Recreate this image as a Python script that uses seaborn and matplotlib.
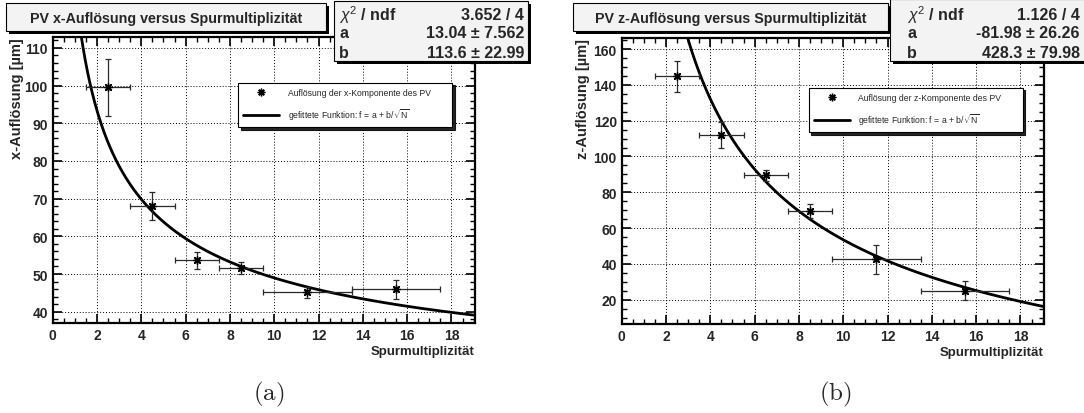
import numpy as np
import pandas as pd
import matplotlib
matplotlib.use("Agg")
import matplotlib.pyplot as plt
import seaborn as sns
from matplotlib.patches import Rectangle
from matplotlib.lines import Line2D
from matplotlib.ticker import MultipleLocator

# ---------------- data ----------------
n_center = [2.5, 4.5, 6.5, 8.5, 11.5, 15.5]
n_halfwidth = [1, 1, 1, 1, 2, 2]

x_res = [99.5, 68.0, 53.6, 51.6, 45.1, 45.9]
x_res_err = [7.5, 3.7, 2.2, 1.5, 1.4, 2.6]

z_res = [144.9, 112.1, 89.5, 69.5, 42.5, 25.0]
z_res_err = [8.6, 7.2, 3.0, 3.8, 8.0, 5.2]

fit_x = (13.04, 113.6)
fit_z = (-81.98, 428.3)

stats_x = [(r"$\chi^2$ / ndf", "3.652 / 4"), ("a", "13.04 ± 7.562"), ("b", "113.6 ± 22.99")]
stats_z = [(r"$\chi^2$ / ndf", "1.126 / 4"), ("a", "-81.98 ± 26.26"), ("b", "428.3 ± 79.98")]

titles = ["PV x-Auflösung versus Spurmultiplizität", "PV z-Auflösung versus Spurmultiplizität"]
ylabels = ["x-Auflösung [µm]", "z-Auflösung [µm]"]
xlabel = "Spurmultiplizität"
legend_points = ["Auflösung der x-Komponente des PV", "Auflösung der z-Komponente des PV"]
legend_fit = r"gefittete Funktion: f = a + b/$\sqrt{\mathrm{N}}$"
panel_tags = [r"$\mathrm{(a)}$", r"$\mathrm{(b)}$"]

xlims = (0, 19.05)
ylims = [(37.0, 112.9), (6.4, 166.2)]
ymajor = [10, 20]
yminor = [2, 5]

# ---------------- style ----------------
sns.set_style("white")
plt.rcParams["font.family"] = ["Liberation Sans", "DejaVu Sans"]
plt.rcParams["mathtext.fontset"] = "custom"
plt.rcParams["mathtext.rm"] = "Liberation Sans"
plt.rcParams["mathtext.it"] = "Liberation Sans:italic"
plt.rcParams["mathtext.bf"] = "Liberation Sans:bold"

W, H = 1084, 414
fig = plt.figure(figsize=(W / 100, H / 100), dpi=100)

axes_px = [(52.7, 38, 422, 286), (621.7, 39, 422, 286)]
legend_px = [(238, 92, 452, 128), (808.5, 94, 1022.5, 133)]
ylabel_x = [-0.068, -0.074]

datasets = [(x_res, x_res_err, fit_x), (z_res, z_res_err, fit_z)]

for i, (px, (vals, errs, (a, b))) in enumerate(zip(axes_px, datasets)):
    l, t, w, h = px
    ax = fig.add_axes([l / W, 1 - (t + h) / H, w / W, h / H])
    ax.set_xlim(*xlims)
    ax.set_ylim(*ylims[i])

    # grid
    ax.grid(True, which="major", color="black", linestyle=(0, (1, 2)), linewidth=0.7)
    ax.set_axisbelow(True)

    # fit curve
    nn = np.linspace(0.8, 19.05, 400)
    curve = pd.DataFrame({"N": nn, "f": a + b / np.sqrt(nn)})
    sns.lineplot(data=curve, x="N", y="f", ax=ax, color="black", linewidth=2.0, zorder=3)

    # data points with error bars
    ax.errorbar(n_center, vals, xerr=n_halfwidth, yerr=errs, fmt="none",
                ecolor="#2a2a2a", elinewidth=0.9, capsize=2, capthick=0.9, zorder=4)
    pts = pd.DataFrame({"N": n_center, "res": vals})
    sns.scatterplot(data=pts, x="N", y="res", ax=ax, marker=(8, 2, 0), s=30,
                    color="black", linewidths=1.0, zorder=5)

    # ticks
    ax.xaxis.set_major_locator(MultipleLocator(2))
    ax.xaxis.set_minor_locator(MultipleLocator(0.5))
    ax.yaxis.set_major_locator(MultipleLocator(ymajor[i]))
    ax.yaxis.set_minor_locator(MultipleLocator(yminor[i]))
    ax.tick_params(which="both", direction="in", top=True, right=True, bottom=True, left=True,
                   color="black")
    ax.tick_params(which="major", length=6.5, width=1.2, labelsize=10, pad=3.5)
    ax.tick_params(which="minor", length=3.6, width=1.0)
    for lab in ax.get_xticklabels() + ax.get_yticklabels():
        lab.set_fontweight("bold")
    for sp in ax.spines.values():
        sp.set_linewidth(1.6)
        sp.set_color("black")

    ax.set_xlabel(xlabel, fontsize=9.5, fontweight="bold", loc="right", labelpad=2)
    ax.set_ylabel(ylabels[i], fontsize=10.5, fontweight="bold", loc="top")
    ax.yaxis.set_label_coords(ylabel_x[i], 1.0)

    # legend
    lx0, ly0, lx1, ly1 = legend_px[i]
    handles = [Line2D([], [], marker=(8, 2, 0), linestyle="none", color="black", markersize=5.5,
                      markeredgewidth=1.0),
               Line2D([], [], color="black", linewidth=2.0)]
    bx = (lx0 - l) / w
    by = 1 - (ly1 - t) / h
    leg = ax.legend(handles, [legend_points[i], legend_fit],
                    bbox_to_anchor=(bx, by, (lx1 - lx0) / w, (ly1 - ly0) / h),
                    loc="lower left", mode="expand", fontsize=6.2, frameon=True,
                    fancybox=False, shadow={"color": "black", "alpha": 0.85},
                    handlelength=4.2, handletextpad=1.0, labelspacing=1.1,
                    borderpad=0.6, borderaxespad=0)
    leg.get_frame().set_edgecolor("black")
    leg.get_frame().set_linewidth(0.8)
    leg.get_frame().set_facecolor("white")
    leg.set_zorder(10)

# ---------------- overlay for title/stat boxes ----------------
ov = fig.add_axes([0, 0, 1, 1], zorder=20)
ov.set_xlim(0, W)
ov.set_ylim(H, 0)
ov.axis("off")


def box(x0, y0, x1, y1, face):
    ov.add_patch(Rectangle((x0 + 3, y0 + 3), x1 - x0, y1 - y0, facecolor="black",
                           edgecolor="none", zorder=1))
    ov.add_patch(Rectangle((x0, y0), x1 - x0, y1 - y0, facecolor=face,
                           edgecolor="black", linewidth=0.8, zorder=2))


title_px = [(6, 4, 326, 32), (573, 4, 888, 32)]
stats_box_px = [(334, 2, 528, 62), (890, 0, 1090, 62)]
stats_label_x = [339, 907]
stats_value_x = [524, 1080]
stats_rows_y = [15, 34, 53]
tag_x = [269, 835]

for i in range(2):
    x0, y0, x1, y1 = title_px[i]
    box(x0, y0, x1, y1, "#f3f3f3")
    ov.text((x0 + x1) / 2, (y0 + y1) / 2 + 1, titles[i], ha="center", va="center",
            fontsize=10.3, fontweight="bold", zorder=3)

    sx0, sy0, sx1, sy1 = stats_box_px[i]
    box(sx0, sy0, sx1, sy1, "#f3f3f3")
    rows = stats_x if i == 0 else stats_z
    for (lab, val), yy in zip(rows, stats_rows_y):
        ov.text(stats_label_x[i], yy, lab, ha="left", va="center", fontsize=11.5,
                fontweight="bold", zorder=3)
        ov.text(stats_value_x[i], yy, val, ha="right", va="center", fontsize=11.5,
                fontweight="bold", zorder=3)

    ov.text(tag_x[i], 394, panel_tags[i], ha="center", va="center", fontsize=18,
            math_fontfamily="cm", zorder=3)

fig.savefig("out.png", dpi=100, facecolor="white")
